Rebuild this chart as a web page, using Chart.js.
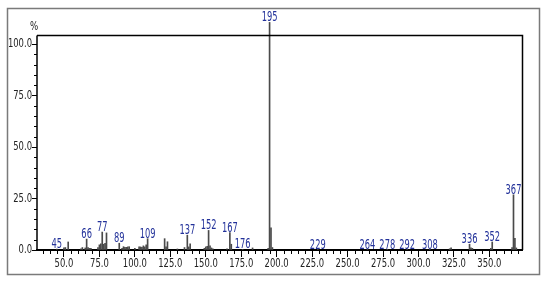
<!DOCTYPE html>
<html>
<head>
<meta charset="utf-8">
<script src="https://cdn.jsdelivr.net/npm/chart.js@4.4.1/dist/chart.umd.min.js"></script>
<style>
  html, body { margin: 0; padding: 0; background: #fff; }
  #wrap { position: relative; width: 550px; height: 285px; }
</style>
</head>
<body>
<div id="wrap"><canvas id="spectrum" width="550" height="285"></canvas></div>
<script>
// Mass spectrum peaks (m/z and relative intensity in %)
const mzValues = [45, 50, 51, 53, 62, 63, 65, 66, 67, 68, 69, 74, 75, 76, 77, 78, 79, 80,
  89, 91, 92, 93, 94, 95, 96, 100, 103, 104, 105, 106, 107, 108, 109,
  121, 122, 123, 130, 135, 137, 138, 139, 149, 150, 151, 152, 153, 154, 155,
  165, 167, 168, 176, 183, 194, 195, 196, 197, 229, 264, 278, 292, 308,
  322, 323, 336, 337, 338, 351, 352, 366, 367, 368, 369];
const intensities = [0.4, 1.0, 1.2, 3.9, 0.6, 1.2, 1.0, 5.3, 1.2, 0.8, 0.8, 1.2, 2.5, 3.0, 8.7, 2.8, 3.2, 8.3,
  3.3, 0.8, 1.6, 1.3, 1.3, 1.5, 1.6, 0.8, 1.5, 1.5, 1.3, 2.0, 1.5, 2.5, 5.5,
  5.5, 1.5, 4.0, 0.5, 1.2, 7.2, 1.5, 3.0, 0.8, 1.5, 1.8, 9.5, 2.0, 1.0, 0.6,
  0.6, 8.4, 2.8, 0.3, 1.0, 0.8, 110.5, 10.8, 1.2, 0.2, 0.2, 0.2, 0.2, 0.2,
  0.6, 1.1, 2.8, 1.0, 0.8, 0.8, 3.9, 1.2, 26.8, 5.7, 1.0];
const labeledPeaks = [45, 66, 77, 89, 109, 137, 152, 167, 176, 195, 229, 264, 278, 292, 308, 336, 352, 367];
const xTickValues = [50, 75, 100, 125, 150, 175, 200, 225, 250, 275, 300, 325, 350];
const yTickValues = [0, 25, 50, 75, 100];
const frameTop = 104.4;

const narrow = "'Liberation Sans Narrow', 'DejaVu Sans Condensed', 'Liberation Sans', sans-serif";

function squeezedText(c, text, x, y, sx) {
  c.save();
  c.translate(x, y);
  c.scale(sx, 1);
  c.fillText(text, 0, 0);
  c.restore();
}

const spectrumDecor = {
  id: 'spectrumDecor',
  beforeDraw(chart) {
    const c = chart.ctx;
    c.save();
    c.strokeStyle = '#7a7a7a';
    c.lineWidth = 1.5;
    c.strokeRect(7.5, 8.5, 532, 266);
    c.restore();
  },
  afterDraw(chart) {
    const c = chart.ctx;
    const a = chart.chartArea;
    const xs = chart.scales.x, ys = chart.scales.y;
    const topY = Math.round(ys.getPixelForValue(frameTop)) + 0.5;
    c.save();
    // top and right frame
    c.strokeStyle = '#000';
    c.lineWidth = 1.5;
    c.beginPath();
    c.moveTo(a.left, topY);
    c.lineTo(a.right + 0.5, topY);
    c.lineTo(a.right + 0.5, a.bottom);
    c.moveTo(a.left, topY);
    c.lineTo(a.left, a.bottom);
    c.stroke();
    // minor ticks
    c.lineWidth = 1;
    c.beginPath();
    for (let v = 35; v < xs.max; v += 5) {
      if (v % 25 === 0) continue;
      const px = Math.round(xs.getPixelForValue(v)) + 0.5;
      c.moveTo(px, a.bottom);
      c.lineTo(px, a.bottom + 4);
    }
    for (let v = 5; v < 100; v += 5) {
      if (v % 25 === 0) continue;
      const py = Math.round(ys.getPixelForValue(v)) + 0.5;
      c.moveTo(a.left - 3, py);
      c.lineTo(a.left, py);
    }
    c.stroke();
    // tick labels
    c.fillStyle = '#222';
    c.font = '12px ' + narrow;
    c.textBaseline = 'middle';
    c.textAlign = 'center';
    xTickValues.forEach(v => squeezedText(c, v.toFixed(1), xs.getPixelForValue(v), 264, 0.78));
    c.textAlign = 'right';
    yTickValues.forEach(v => squeezedText(c, v.toFixed(1), a.left - 5, ys.getPixelForValue(v), 0.78));
    // % unit
    c.textAlign = 'center';
    c.textBaseline = 'alphabetic';
    squeezedText(c, '%', a.left - 3, topY - 6, 0.8);
    // peak labels
    c.fillStyle = '#23329a';
    c.font = '14px ' + narrow;
    labeledPeaks.forEach(m => {
      const i = mzValues.indexOf(m);
      squeezedText(c, String(m), xs.getPixelForValue(m), ys.getPixelForValue(intensities[i]) - 1, 0.66);
    });
    c.restore();
  }
};

new Chart(document.getElementById('spectrum'), {
  type: 'bar',
  data: {
    datasets: [{
      data: mzValues.map((m, i) => ({ x: m, y: intensities[i] })),
      backgroundColor: '#4a4a4a',
      barThickness: 1,
      borderWidth: 0
    }]
  },
  options: {
    responsive: false,
    animation: false,
    layout: { padding: { left: 0, right: 28, top: 22, bottom: 0 } },
    plugins: { legend: { display: false }, tooltip: { enabled: false } },
    scales: {
      x: {
        type: 'linear',
        offset: false,
        min: 31,
        max: 373,
        afterBuildTicks: s => { s.ticks = xTickValues.map(v => ({ value: v })); },
        afterFit: s => { s.height = 35; },
        ticks: { display: false },
        grid: { offset: false, drawOnChartArea: false, tickLength: 7, color: '#000' },
        border: { color: '#000', width: 2 }
      },
      y: {
        min: 0,
        max: 110.7,
        afterBuildTicks: s => { s.ticks = yTickValues.map(v => ({ value: v })); },
        afterFit: s => { s.width = 37; },
        ticks: { display: false },
        grid: { drawOnChartArea: false, tickLength: 5, color: '#000' },
        border: { display: false }
      }
    }
  },
  plugins: [spectrumDecor]
});
</script>
</body>
</html>
